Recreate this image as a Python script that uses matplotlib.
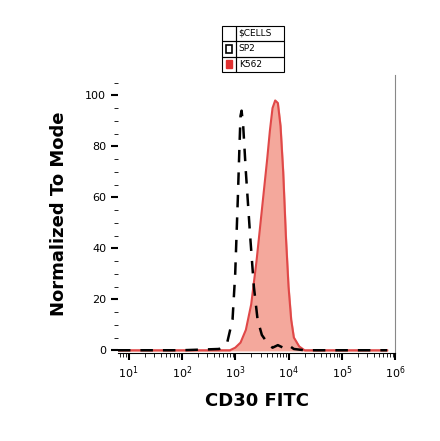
import matplotlib.pyplot as plt
import numpy as np
from matplotlib.patches import Rectangle

# log10 of fluorescence, percent of mode
sp2_logx = [0.8, 2.0, 2.7, 2.85, 2.95, 3.0, 3.05, 3.08, 3.1, 3.12, 3.15, 3.2, 3.28, 3.35, 3.42, 3.5, 3.6, 3.7, 3.8, 3.9, 4.0, 4.1, 4.3, 5.85]
sp2_y = [0, 0, 0.5, 3, 12, 30, 60, 80, 92, 94, 88, 70, 45, 25, 12, 6, 3, 1, 2, 1, 2, 0.5, 0, 0]

k562_logx = [0.8, 2.9, 3.0, 3.1, 3.2, 3.3, 3.4, 3.5, 3.6, 3.65, 3.7, 3.75, 3.8, 3.85, 3.9, 3.95, 4.0, 4.05, 4.1, 4.2, 4.3, 5.85]
k562_y = [0, 0, 1, 3, 8, 18, 35, 55, 75, 86, 95, 98, 97, 88, 70, 45, 25, 12, 5, 1.5, 0, 0]

fig = plt.figure(figsize=(4.4, 4.41), dpi=100)
ax = fig.add_axes([0.268, 0.2, 0.63, 0.63])

kx = 10 ** np.array(k562_logx)
sx = 10 ** np.array(sp2_logx)
ax.fill_between(kx, k562_y, color='#f4a89c')
ax.plot(kx, k562_y, color='#e04848', lw=1.5)
ax.plot(sx, sp2_y, color='black', lw=1.8, ls=(0, (5, 4)))

ax.set_xscale('log')
ax.set_xlim(10 ** 0.8, 10 ** 5.85)
ax.set_ylim(-1, 108)
ax.set_yticks([0, 20, 40, 60, 80, 100])
ax.set_yticks(np.arange(0, 108, 5), minor=True)
ax.set_xticks([10, 100, 1e3, 1e4, 1e5, 1e6])
for s in ['top', 'left']:
    ax.spines[s].set_visible(False)
ax.spines['right'].set_color('#888888')
ax.tick_params(axis='both', labelsize=8, width=1.5, length=5)
ax.tick_params(which='minor', length=3)
ax.set_xlabel('CD30 FITC', fontsize=13, fontweight='bold', labelpad=8)
ax.set_ylabel('Normalized To Mode', fontsize=13, fontweight='bold', labelpad=12)

# legend table
lx, ly, w1, w2, h = 222 / 440, 1 - 72 / 441, 14 / 440, 48 / 440, 15.5 / 441
labels = ['$CELLS', 'SP2', 'K562']
for i, lab in enumerate(labels):
    y = ly + (2 - i) * h
    fig.patches.append(Rectangle((lx, y), w1, h, transform=fig.transFigure, fill=False, lw=0.8))
    fig.patches.append(Rectangle((lx + w1, y), w2, h, transform=fig.transFigure, fill=False, lw=0.8))
    fig.text(lx + w1 + 0.006, y + h / 2, lab.replace('$', r'\$'), fontsize=6.5, va='center')
fig.patches.append(Rectangle((lx + 0.008, ly + h + 0.008), w1 - 0.016, h - 0.016, transform=fig.transFigure, fill=False, lw=1.2))
fig.patches.append(Rectangle((lx + 0.008, ly + 0.008), w1 - 0.016, h - 0.016, transform=fig.transFigure, color='#e03030'))

plt.savefig('out.png')
plt.close(fig)
